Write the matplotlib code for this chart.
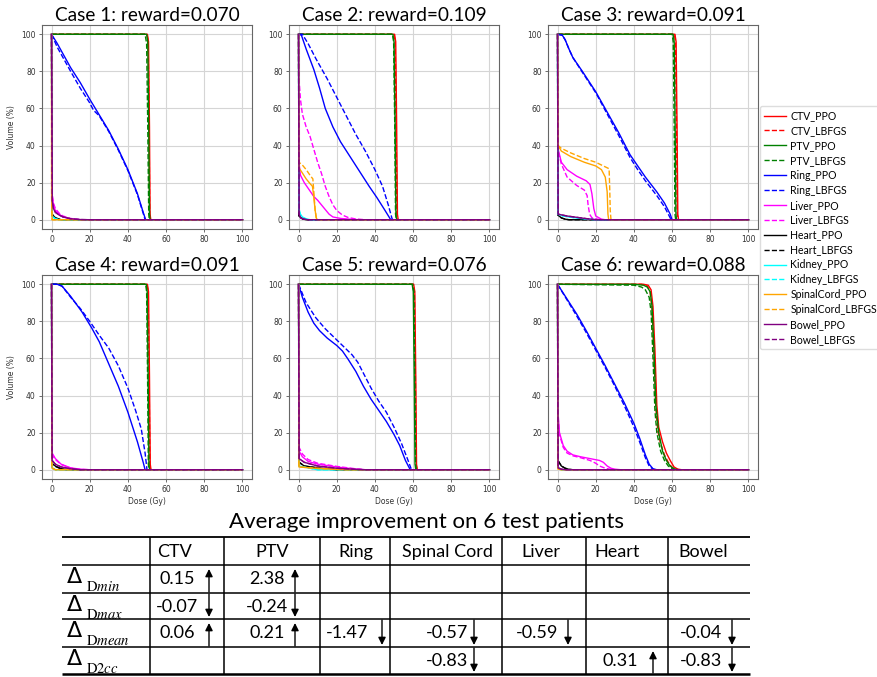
import matplotlib
matplotlib.use('Agg')
import matplotlib.pyplot as plt

plt.rcParams['mathtext.fontset'] = 'stix'

# ---------------- DATA ----------------
structures = ['CTV', 'PTV', 'Ring', 'Liver', 'Heart', 'Kidney', 'SpinalCord', 'Bowel']
colors = ['red', 'green', 'blue', 'magenta', 'black', 'cyan', 'orange', 'purple']
rewards = ['0.070', '0.109', '0.091', '0.091', '0.076', '0.088']

# Case 1  (dose Gy, volume %)
c1_ctv_ppo = [(0, 100), (50.2, 100), (50.8, 96), (51.3, 50), (51.6, 3), (52, 0), (100, 0)]
c1_ctv_lbfgs = [(0, 100), (50, 100), (50.6, 96), (51.1, 50), (51.4, 3), (51.8, 0), (100, 0)]
c1_ptv_ppo = [(0, 100), (49.8, 100), (50.4, 96), (50.9, 50), (51.3, 3), (51.6, 0), (100, 0)]
c1_ptv_lbfgs = [(0, 100), (49, 100), (49.8, 95), (50.4, 50), (50.9, 3), (51.2, 0), (100, 0)]
c1_ring_ppo = [(0, 100), (3, 95), (10, 82), (15, 74), (20, 65), (25, 56.5), (30, 48), (35, 38), (40, 27), (45, 14), (48, 4), (49.3, 0), (100, 0)]
c1_ring_lbfgs = [(0, 100), (3, 93), (10, 80), (15, 71), (20, 63), (22, 59), (25, 56), (30, 47.5), (35, 37.5), (40, 26.5), (45, 13.5), (48, 3.5), (49, 0), (100, 0)]
c1_liver_ppo = [(0, 100), (0.3, 13), (1, 8), (2, 5), (4, 3), (6, 1.5), (10, 0.5), (15, 0), (100, 0)]
c1_liver_lbfgs = [(0, 100), (0.3, 14), (1, 9), (2, 6), (4, 3.5), (6, 2), (10, 0.7), (15, 0), (100, 0)]
c1_heart_ppo = [(0, 100), (0.2, 3), (2, 1), (5, 0), (100, 0)]
c1_heart_lbfgs = [(0, 100), (0.2, 3), (2, 1), (5, 0), (100, 0)]
c1_kidney_ppo = [(0, 100), (0.2, 2), (2, 0.5), (4, 0), (100, 0)]
c1_kidney_lbfgs = [(0, 100), (0.2, 2), (2, 0.5), (4, 0), (100, 0)]
c1_spinal_ppo = [(0, 100), (0.05, 12), (0.3, 0), (100, 0)]
c1_spinal_lbfgs = [(0, 100), (0.05, 11), (0.3, 0), (100, 0)]
c1_bowel_ppo = [(0, 100), (0.4, 10), (1, 6), (2, 4), (4, 2.5), (6, 1.5), (10, 0.5), (15, 0.1), (20, 0), (100, 0)]
c1_bowel_lbfgs = [(0, 100), (0.4, 10), (1, 6), (2, 4), (4, 2.5), (6, 1.5), (10, 0.5), (15, 0.1), (20, 0), (100, 0)]

# Case 2
c2_ctv_ppo = [(0, 100), (50.3, 100), (50.9, 96), (51.4, 50), (51.8, 3), (52.2, 0), (100, 0)]
c2_ctv_lbfgs = [(0, 100), (50, 100), (50.6, 96), (51.1, 50), (51.5, 3), (51.9, 0), (100, 0)]
c2_ptv_ppo = [(0, 100), (49.4, 100), (50, 96), (50.6, 50), (51, 3), (51.4, 0), (100, 0)]
c2_ptv_lbfgs = [(0, 100), (49.2, 100), (49.8, 96), (50.4, 50), (50.8, 3), (51.2, 0), (100, 0)]
c2_ring_ppo = [(0, 100), (1.5, 99.5), (4, 92), (8, 81), (11, 71), (14, 60), (18, 50), (22, 42), (27, 34), (32, 26), (37, 18), (41, 12), (45, 5.5), (48, 0.5), (48.5, 0), (100, 0)]
c2_ring_lbfgs = [(0, 100), (2, 100), (5, 95), (9, 87), (15, 76), (20, 66), (25, 56), (30, 46), (35, 37), (40, 27), (44, 18), (47, 8), (49, 0.5), (49.5, 0), (100, 0)]
c2_liver_ppo = [(0, 100), (0.3, 30), (1, 24), (3, 20), (5, 17), (8, 12.5), (10, 10.5), (12, 8), (14, 5.5), (16, 3), (18, 1.5), (22, 0.7), (28, 0.2), (32, 0), (100, 0)]
c2_liver_lbfgs = [(0, 100), (0.3, 75), (1, 65), (2, 57), (4, 50), (6, 45), (8, 38), (10, 31), (12, 25), (14, 18), (16, 12.5), (18, 8), (20, 5), (23, 2.5), (26, 1.2), (30, 0.4), (35, 0), (100, 0)]
c2_heart_ppo = [(0, 100), (0.2, 2), (2, 0.5), (4, 0), (100, 0)]
c2_heart_lbfgs = [(0, 100), (0.2, 2), (2, 0.5), (4, 0), (100, 0)]
c2_kidney_ppo = [(0, 100), (0.2, 6), (1, 3), (2, 1.5), (4, 0.5), (6, 0), (100, 0)]
c2_kidney_lbfgs = [(0, 100), (0.2, 5), (1, 2.5), (2, 1), (4, 0.3), (6, 0), (100, 0)]
c2_spinal_ppo = [(0, 100), (0.2, 28), (1.5, 26), (4, 22), (6, 19.5), (7.3, 18), (8, 12), (8.7, 5), (9.3, 1), (9.8, 0), (100, 0)]
c2_spinal_lbfgs = [(0, 100), (0.2, 31), (2, 29.5), (4, 27), (6, 24), (7.5, 22), (8, 15), (8.7, 5), (9.3, 1), (9.8, 0), (100, 0)]
c2_bowel_ppo = [(0, 100), (0.3, 3), (1, 1), (3, 0.3), (5, 0), (100, 0)]
c2_bowel_lbfgs = [(0, 100), (0.3, 3), (1, 1), (3, 0.3), (5, 0), (100, 0)]

# Case 3
c3_ctv_ppo = [(0, 100), (61.5, 100), (62.1, 96), (62.6, 50), (63, 3), (63.4, 0), (100, 0)]
c3_ctv_lbfgs = [(0, 100), (61.2, 100), (61.8, 96), (62.3, 50), (62.7, 3), (63.1, 0), (100, 0)]
c3_ptv_ppo = [(0, 100), (60.5, 100), (61.1, 96), (61.6, 50), (62, 3), (62.4, 0), (100, 0)]
c3_ptv_lbfgs = [(0, 100), (60, 100), (60.6, 96), (61.1, 50), (61.5, 3), (61.9, 0), (100, 0)]
c3_ring_ppo = [(0, 100), (2.5, 99.5), (4, 97), (6, 92), (8, 87.5), (13, 80), (20, 69), (26, 58), (32, 47), (38, 35), (42, 29), (46, 23), (52, 15), (56, 9), (59, 3), (60, 0), (100, 0)]
c3_ring_lbfgs = [(0, 100), (2.5, 99.5), (4, 97), (6, 92), (8, 87.5), (13, 79.5), (20, 68.5), (26, 57), (32, 45.5), (38, 33.5), (42, 27), (46, 21), (52, 13), (56, 7), (58.5, 2), (59.5, 0), (100, 0)]
c3_liver_ppo = [(0, 100), (0.3, 38), (2, 31), (5, 27), (10, 23.5), (15, 21), (17, 19), (18, 14), (19, 6), (20, 2), (23, 0.3), (25, 0), (100, 0)]
c3_liver_lbfgs = [(0, 100), (0.3, 37), (2, 30), (5, 23), (10, 18.5), (14, 16), (15.5, 13), (16, 8), (16.8, 3), (18, 1), (21, 0.3), (23, 0), (100, 0)]
c3_heart_ppo = [(0, 100), (0.2, 2.5), (2, 1), (4, 0.3), (6, 0), (100, 0)]
c3_heart_lbfgs = [(0, 100), (0.2, 2.5), (2, 1), (4, 0.3), (6, 0), (100, 0)]
c3_kidney_ppo = [(0, 100), (0.2, 3), (3, 2), (8, 1.2), (14, 0.5), (20, 0), (100, 0)]
c3_kidney_lbfgs = [(0, 100), (0.2, 3), (3, 2), (8, 1.2), (14, 0.5), (20, 0), (100, 0)]
c3_spinal_ppo = [(0, 100), (0.3, 40), (2, 37), (7, 34), (14, 31), (20, 29), (23, 27), (25, 23), (26, 15), (26.4, 3), (26.8, 0), (100, 0)]
c3_spinal_lbfgs = [(0, 100), (0.3, 40), (2, 38.5), (7, 36), (14, 33), (20, 31), (25, 28.5), (27, 27.5), (27.3, 18), (27.6, 5), (28, 0), (100, 0)]
c3_bowel_ppo = [(0, 100), (0.3, 3), (5, 2), (10, 1.3), (15, 0.6), (20, 0), (100, 0)]
c3_bowel_lbfgs = [(0, 100), (0.3, 3), (5, 2), (10, 1.3), (15, 0.6), (20, 0), (100, 0)]

# Case 4
c4_ctv_ppo = [(0, 100), (50.2, 100), (50.8, 96), (51.3, 50), (51.7, 3), (52.1, 0), (100, 0)]
c4_ctv_lbfgs = [(0, 100), (50, 100), (50.6, 96), (51.1, 50), (51.5, 3), (51.9, 0), (100, 0)]
c4_ptv_ppo = [(0, 100), (49.6, 100), (50.1, 96), (50.6, 50), (51, 3), (51.4, 0), (100, 0)]
c4_ptv_lbfgs = [(0, 100), (49.3, 100), (49.8, 96), (50.3, 50), (50.7, 3), (51.1, 0), (100, 0)]
c4_ring_ppo = [(0, 100), (3, 100), (5.5, 99), (10, 93.5), (16, 85), (21, 76.5), (25, 69), (30, 57), (35, 45), (40, 31), (45, 15), (48, 4), (49, 0), (100, 0)]
c4_ring_lbfgs = [(0, 100), (3, 100), (5.5, 99), (10, 93), (15, 87), (20, 80), (25, 72.5), (30, 65.5), (35, 56), (40, 44), (44, 32), (47, 22), (49, 9), (50, 0), (100, 0)]
c4_liver_ppo = [(0, 100), (0.3, 9), (2, 6), (5, 3), (10, 1), (15, 0.3), (20, 0), (100, 0)]
c4_liver_lbfgs = [(0, 100), (0.3, 8), (2, 5.5), (5, 2.8), (10, 0.9), (15, 0.2), (20, 0), (100, 0)]
c4_heart_ppo = [(0, 100), (0.2, 3.5), (2, 2), (4, 1), (6, 0.3), (8, 0), (100, 0)]
c4_heart_lbfgs = [(0, 100), (0.2, 3), (2, 1.8), (4, 0.9), (6, 0.3), (8, 0), (100, 0)]
c4_kidney_ppo = [(0, 100), (0.2, 1), (2, 0), (100, 0)]
c4_kidney_lbfgs = [(0, 100), (0.2, 1), (2, 0), (100, 0)]
c4_spinal_ppo = [(0, 100), (0.2, 1), (2, 0), (100, 0)]
c4_spinal_lbfgs = [(0, 100), (0.2, 1), (2, 0), (100, 0)]
c4_bowel_ppo = [(0, 100), (0.3, 5), (2, 3), (5, 1.5), (10, 0.5), (15, 0), (100, 0)]
c4_bowel_lbfgs = [(0, 100), (0.3, 5), (2, 3), (5, 1.5), (10, 0.5), (15, 0), (100, 0)]

# Case 5
c5_ctv_ppo = [(0, 100), (60.3, 100), (60.9, 96), (61.4, 50), (61.8, 3), (62.2, 0), (100, 0)]
c5_ctv_lbfgs = [(0, 100), (60.1, 100), (60.7, 96), (61.2, 50), (61.6, 3), (62, 0), (100, 0)]
c5_ptv_ppo = [(0, 100), (59.5, 100), (60.1, 96), (60.6, 50), (61, 3), (61.4, 0), (100, 0)]
c5_ptv_lbfgs = [(0, 100), (59.8, 100), (60.4, 96), (60.9, 50), (61.3, 3), (61.7, 0), (100, 0)]
c5_ring_ppo = [(0, 100), (2, 93), (5, 85), (8, 79), (11, 75), (15, 71), (20, 67), (23, 64), (26, 59.5), (30, 53), (34, 45), (38, 38), (42, 32), (46, 26), (50, 19), (53, 13), (56, 5), (58.5, 0), (100, 0)]
c5_ring_lbfgs = [(0, 100), (2, 95), (4, 90), (9, 82), (14, 76), (18, 72), (22, 68), (25, 65), (28, 62), (31, 58), (34, 52), (38, 44), (42, 37), (46, 31), (50, 23), (54, 14), (57, 6), (59, 0.5), (59.5, 0), (100, 0)]
c5_liver_ppo = [(0, 100), (0.3, 10), (2, 7), (5, 4.5), (10, 3), (20, 1.5), (30, 0.3), (35, 0), (100, 0)]
c5_liver_lbfgs = [(0, 100), (0.3, 12), (2, 8.5), (5, 5.5), (10, 3.5), (20, 1.8), (30, 0.5), (35, 0), (100, 0)]
c5_heart_ppo = [(0, 100), (0.3, 4), (3, 2), (10, 1), (15, 0.3), (20, 0), (100, 0)]
c5_heart_lbfgs = [(0, 100), (0.3, 4), (3, 2), (10, 1), (15, 0.3), (20, 0), (100, 0)]
c5_kidney_ppo = [(0, 100), (0.2, 2), (5, 1), (10, 0), (100, 0)]
c5_kidney_lbfgs = [(0, 100), (0.2, 2), (5, 1), (10, 0), (100, 0)]
c5_spinal_ppo = [(0, 100), (0.2, 1.5), (10, 0.7), (20, 0.2), (25, 0), (100, 0)]
c5_spinal_lbfgs = [(0, 100), (0.2, 1.5), (10, 0.7), (20, 0.2), (25, 0), (100, 0)]
c5_bowel_ppo = [(0, 100), (0.3, 6), (3, 4), (10, 2), (20, 0.8), (30, 0.2), (35, 0), (100, 0)]
c5_bowel_lbfgs = [(0, 100), (0.3, 6), (3, 4), (10, 2), (20, 0.8), (30, 0.2), (35, 0), (100, 0)]

# Case 6
c6_ctv_ppo = [(0, 100), (45, 100), (47.5, 99.5), (49, 97), (50, 88), (51, 65), (52, 35), (53, 23), (55, 15), (57, 9), (59, 5), (61, 1.5), (63, 0.3), (65, 0), (100, 0)]
c6_ctv_lbfgs = [(0, 100), (44, 100), (47, 99), (48.5, 96), (49.5, 87), (50.5, 62), (51.5, 33), (52.5, 21), (54, 14), (56, 8), (58, 4), (60, 1.2), (62, 0.2), (64, 0), (100, 0)]
c6_ptv_ppo = [(0, 100), (40, 100), (45, 99.5), (47, 98.5), (48.5, 96), (49.5, 88), (50.5, 65), (51.5, 35), (53, 20), (55, 10), (57, 5), (59, 2), (61, 0.5), (63, 0), (100, 0)]
c6_ptv_lbfgs = [(0, 100), (40, 99.5), (44, 98.5), (46, 97), (48, 93), (49, 85), (50, 60), (51, 32), (52, 20), (54, 10), (56, 5), (58, 2), (60, 0.5), (62, 0), (100, 0)]
c6_ring_ppo = [(0, 100), (5, 92), (10, 84), (15, 75), (20, 65.5), (25, 56), (30, 46), (35, 36), (40, 25), (43, 17), (46, 8), (48, 3), (50, 0.5), (52, 0), (100, 0)]
c6_ring_lbfgs = [(0, 100), (5, 91.5), (10, 83), (15, 74), (20, 64.5), (25, 55), (30, 45), (35, 34.5), (40, 23), (43, 15), (46, 6.5), (48, 2), (50, 0.3), (51, 0), (100, 0)]
c6_liver_ppo = [(0, 100), (0.3, 30), (1, 20), (3, 13), (5, 10), (8, 8), (12, 7), (17, 6), (22, 5), (24, 4), (26, 2), (28, 0.8), (30, 0.3), (33, 0), (100, 0)]
c6_liver_lbfgs = [(0, 100), (0.3, 28), (1, 19), (3, 12), (5, 9), (8, 7.5), (12, 6.5), (17, 5), (20, 3.5), (22, 2), (25, 0.8), (28, 0.2), (30, 0), (100, 0)]
c6_heart_ppo = [(0, 100), (0.2, 5), (2, 2), (4, 0.8), (6, 0.2), (8, 0), (100, 0)]
c6_heart_lbfgs = [(0, 100), (0.2, 5), (2, 2), (4, 0.8), (6, 0.2), (8, 0), (100, 0)]
c6_kidney_ppo = [(0, 100), (0.2, 1), (2, 0), (100, 0)]
c6_kidney_lbfgs = [(0, 100), (0.2, 1), (2, 0), (100, 0)]
c6_spinal_ppo = [(0, 100), (0.2, 0.5), (2, 0), (100, 0)]
c6_spinal_lbfgs = [(0, 100), (0.2, 0.5), (2, 0), (100, 0)]
c6_bowel_ppo = [(0, 100), (0.3, 1), (2, 0.3), (4, 0), (100, 0)]
c6_bowel_lbfgs = [(0, 100), (0.3, 1), (2, 0.3), (4, 0), (100, 0)]

# Table data
table_title = 'Average improvement on 6 test patients'
table_cols = ['CTV', 'PTV', 'Ring', 'Spinal Cord', 'Liver', 'Heart', 'Bowel']
table_rows = ['min', 'max', 'mean', '2cc']
dmin_vals = ['0.15', '2.38', '', '', '', '', '']
dmax_vals = ['-0.07', '-0.24', '', '', '', '', '']
dmean_vals = ['0.06', '0.21', '-1.47', '-0.57', '-0.59', '', '-0.04']
d2cc_vals = ['', '', '', '-0.83', '', '0.31', '-0.83']

# ---------------- FIGURE ----------------
W, H = 878, 677
fig = plt.figure(figsize=(W / 100, H / 100), dpi=100)

def px_axes(left, top, w, h, **kw):
    return fig.add_axes([left / W, 1 - (top + h) / H, w / W, h / H], **kw)

case_curves = []
for c in range(1, 7):
    g = globals()
    lst = []
    for key in ['ctv', 'ptv', 'ring', 'liver', 'heart', 'kidney', 'spinal', 'bowel']:
        lst.append((g[f'c{c}_{key}_ppo'], g[f'c{c}_{key}_lbfgs']))
    case_curves.append(lst)

lefts = [42, 289, 548]
tops = [25, 275]
AW, AH = 210, 204
TFONT = 'Lato'

axes = []
for i in range(6):
    r, cidx = divmod(i, 3)
    ax = px_axes(lefts[cidx], tops[r], AW, AH)
    axes.append(ax)
    for (ppo, lb), s, col in zip(case_curves[i], structures, colors):
        ax.plot([p[0] for p in ppo], [p[1] for p in ppo], color=col, ls='-', lw=1.0, label=f'{s}_PPO')
        ax.plot([p[0] for p in lb], [p[1] for p in lb], color=col, ls='--', lw=1.0, label=f'{s}_LBFGS')
    ax.set_xlim(-5, 105)
    ax.set_ylim(-5, 105)
    ax.set_xticks(range(0, 101, 20))
    ax.set_yticks(range(0, 101, 20))
    ax.tick_params(labelsize=5.5, length=2.5, width=0.6, colors='#555555', labelcolor='#333333', pad=2)
    ax.grid(True, color='#d5d5d5', lw=0.8)
    ax.set_axisbelow(True)
    for sp in ax.spines.values():
        sp.set_color('#666666')
        sp.set_linewidth(0.8)
    ax.set_title(f'Case {i + 1}: reward={rewards[i]}', fontsize=13.7, family=TFONT, pad=3)
    if cidx == 0:
        ax.set_ylabel('Volume (%)', fontsize=5.5, labelpad=4, color='#333333')
    if r == 1:
        ax.set_xlabel('Dose (Gy)', fontsize=5.5, labelpad=2, color='#333333')

handles, labels = axes[0].get_legend_handles_labels()
fs_leg = 7.6
leg = fig.legend(handles, labels, loc='upper left', bbox_to_anchor=(760 / W, 1 - 106 / H),
                 bbox_transform=fig.transFigure, prop={'family': TFONT, 'size': fs_leg},
                 handlelength=2.08, handletextpad=0.38, labelspacing=0.37, borderpad=0.4,
                 borderaxespad=0, frameon=True, edgecolor='#dddddd', framealpha=1)

# ---------------- TABLE ----------------
tx = px_axes(0, 0, W, H)
tx.set_xlim(0, W)
tx.set_ylim(H, 0)
tx.axis('off')

hlines = [537, 565, 593, 619, 647, 674]
vlines = [150, 224, 320, 390, 502, 586, 668]
x_left, x_right = 62, 750
for k, y in enumerate(hlines):
    lw = 1.8 if k == len(hlines) - 1 else (1.3 if k == 0 else 1.1)
    tx.plot([x_left, x_right], [y, y], color='black', lw=lw, solid_capstyle='butt')
for x in vlines:
    tx.plot([x, x], [hlines[0], hlines[-1]], color='black', lw=1.1, solid_capstyle='butt')

tx.text(427, 522, table_title, ha='center', va='center', fontsize=16, family=TFONT)

header_x = [175, 272, 356, 447, 541, 617, 703]
for name, x in zip(table_cols, header_x):
    tx.text(x, 552, name, ha='center', va='center', fontsize=13, family=TFONT)

text_x = [177, 267, 347, 447, 537, 620, 701]
arrow_x = [209, 295, 382, 474, 568, 653, 732]
all_vals = [dmin_vals, dmax_vals, dmean_vals, d2cc_vals]
for ri, vals in enumerate(all_vals):
    top, bot = hlines[ri + 1], hlines[ri + 2]
    tx.text(67, top + 18, '\u0394', ha='left', va='baseline', fontsize=16, family='DejaVu Sans')
    sub = table_rows[ri]
    if sub[0].isdigit():
        lab = r'$\mathrm{D' + sub[0] + r'}\mathit{' + sub[1:] + '}$'
    else:
        lab = r'$\mathrm{D}\mathit{' + sub + '}$'
    tx.text(86, top + 26, lab, ha='left', va='baseline', fontsize=10.5)
    for ci, v in enumerate(vals):
        if not v:
            continue
        ymid = (top + bot) / 2
        tx.text(text_x[ci], ymid + 0.5, v, ha='center', va='center', fontsize=13, family=TFONT)
        up = not v.startswith('-')
        if up:
            tail, tip = bot - 1, top + 4
        else:
            tail, tip = top + 1, bot - 2
        tx.annotate('', xy=(arrow_x[ci], tip), xytext=(arrow_x[ci], tail),
                    arrowprops=dict(arrowstyle='-|>', lw=1.0, color='black',
                                    mutation_scale=11, shrinkA=0, shrinkB=0))

fig.savefig('out.png', dpi=100)
